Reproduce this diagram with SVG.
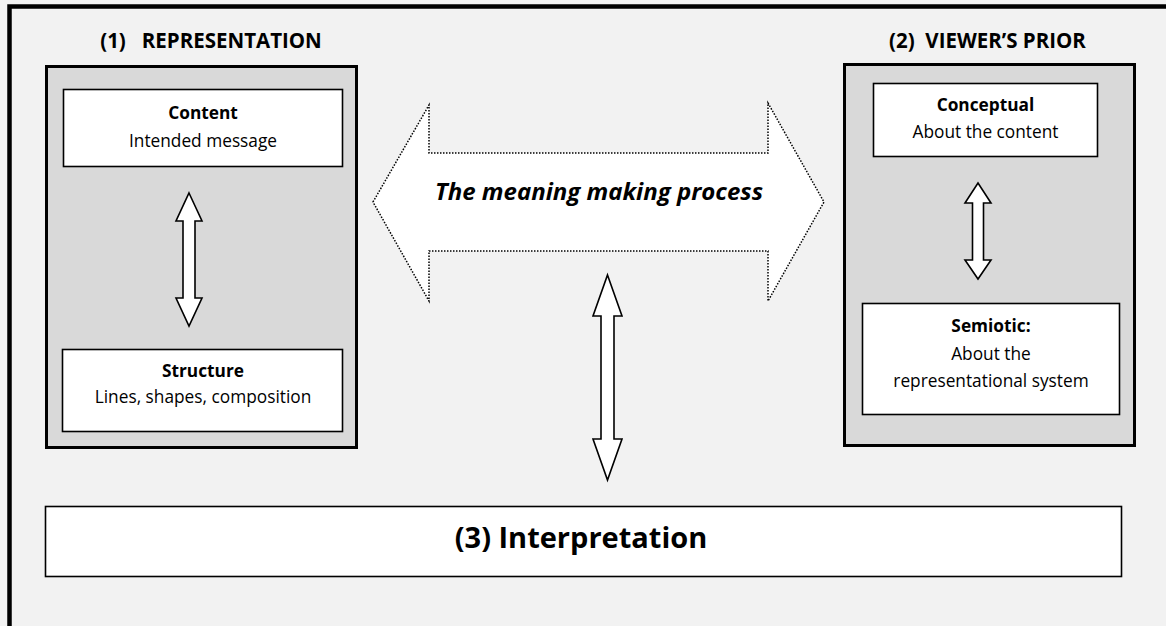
<svg xmlns="http://www.w3.org/2000/svg" width="1166" height="626" viewBox="0 0 1166 626">
<style>
.t{font-family:"Open Sans",Lato,"Liberation Sans",sans-serif;fill:#000;text-anchor:middle}
.b{font-weight:bold}
.s{font-size:17.3px}
.h{font-size:20.5px;font-weight:bold}
.panel{fill:#d9d9d9;stroke:#000;stroke-width:3}
.box{fill:#fff;stroke:#000;stroke-width:1.6}
.arr{fill:#fff;stroke:#000;stroke-width:1.6;stroke-linejoin:miter}
</style>
<rect x="0" y="0" width="1166" height="626" fill="#f2f2f2"/>
<rect x="9.5" y="6.5" width="1200" height="700" fill="none" stroke="#000" stroke-width="4.5"/>

<g id="representation">
<text class="t h" x="211" y="48" xml:space="preserve">(1)   REPRESENTATION</text>
<rect class="panel" x="46.5" y="66.5" width="310" height="381"/>
</g>
<g id="content">
<rect class="box" x="63.5" y="89.5" width="279" height="77"/>
<text class="t b s" x="203" y="119">Content</text>
<text class="t s" x="203" y="147">Intended message</text>
</g>
<g id="structure">
<rect class="box" x="62.5" y="349.5" width="280" height="82"/>
<text class="t b s" x="203" y="377">Structure</text>
<text class="t s" x="203" y="403">Lines, shapes, composition</text>
</g>

<g id="viewers-prior">
<text class="t h" x="987.5" y="48" xml:space="preserve">(2)  VIEWER’S PRIOR</text>
<rect class="panel" x="844.5" y="64.5" width="290" height="381"/>
</g>
<g id="conceptual">
<rect class="box" x="873.5" y="83.5" width="224" height="73"/>
<text class="t b s" x="985.5" y="111">Conceptual</text>
<text class="t s" x="985.5" y="138">About the content</text>
</g>
<g id="semiotic">
<rect class="box" x="862.5" y="303.5" width="257" height="111"/>
<text class="t b s" x="991" y="332">Semiotic:</text>
<text class="t s" x="991" y="360">About the</text>
<text class="t s" x="991" y="387">representational system</text>
</g>

<g id="meaning-making">
<path d="M373,202 L429,105 L429,153 L768,153 L768,103 L824,202 L768,301 L768,251 L429,251 L429,301 Z" fill="#fff" stroke="#000" stroke-width="1.5" stroke-dasharray="1.5 1.5"/>
<text class="t b" x="599" y="200" font-size="24" font-style="italic">The meaning making process</text>
</g>

<g id="interpretation">
<rect class="box" x="45.5" y="506.5" width="1076" height="70"/>
<text class="t b" x="581" y="548" font-size="29">(3) Interpretation</text>
</g>

<g id="connectors">
<path class="arr" d="M189,193 L202,221 L195,221 L195,298 L202,298 L189,326 L176,298 L183,298 L183,221 L176,221 Z"/>
<path class="arr" d="M978,183 L991,203 L983.5,203 L983.5,260 L991,260 L978,279 L965,260 L972.5,260 L972.5,203 L965,203 Z"/>
<path class="arr" d="M607.5,275 L622,316 L614,316 L614,439 L622,439 L607.5,480 L593,439 L601,439 L601,316 L593,316 Z"/>
</g>
</svg>
